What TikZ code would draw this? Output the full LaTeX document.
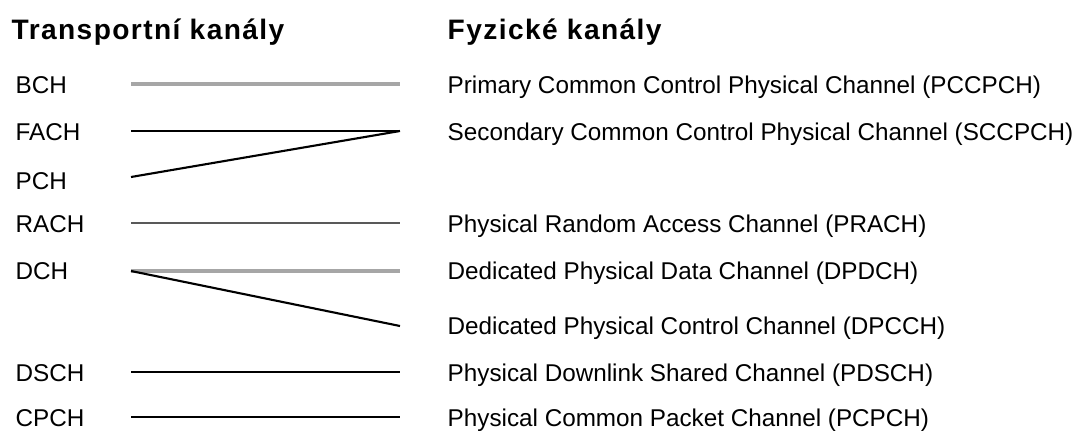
\documentclass[tikz,border=0pt]{standalone}
\usepackage{fontspec}
\setmainfont{Liberation Sans}
\usetikzlibrary{positioning}
\tikzset{
  px/.style={x=0.01cm,y=-0.01cm},
  colhead/.style={anchor=base west,inner sep=0pt,
    font=\bfseries\fontsize{8}{9}\selectfont\addfontfeature{LetterSpace=5}},
  chlbl/.style={anchor=base west,inner sep=0pt,font=\fontsize{6.9}{8}\selectfont},
  link/.style={line width=0.6pt,black},
  darklink/.style={line width=0.6pt,black!65},
  graylink/.style={line width=1.3pt,black!35},
}

\begin{document}
\begin{tikzpicture}[px]
  \useasboundingbox (0,0) rectangle (1072,430);
  % column headings
  \node[colhead] (thead) at (11,39) {Transportní kanály};
  \node[colhead] (phead) at (447,39) {Fyzické kanály};
  % transport channels (left) and line starts
  \foreach \n/\t/\y/\ly in {bch/BCH/93/84, fach/FACH/140/131, pch/PCH/189/177,
      rach/RACH/232/223, dch/DCH/279/271, dsch/DSCH/381/372, cpch/CPCH/426/417} {
    \node[chlbl] (\n) at (15,\y) {\t};
    \coordinate (t-\n) at (131,\ly);
  }
  % physical channels (right) and line ends
  \foreach \n/\t/\y/\ly in {
      pccpch/Primary Common Control Physical Channel (PCCPCH)/93/84,
      sccpch/Secondary Common Control Physical Channel (SCCPCH)/140/131,
      prach/Physical Random Access Channel (PRACH)/232/223,
      dpdch/Dedicated Physical Data Channel (DPDCH)/279/271,
      dpcch/Dedicated Physical Control Channel (DPCCH)/334/326,
      pdsch/Physical Downlink Shared Channel (PDSCH)/381/372,
      pcpch/Physical Common Packet Channel (PCPCH)/426/417} {
    \node[chlbl] (\n) at (447,\y) {\t};
    \coordinate (p-\n) at (400,\ly);
  }
  % mapping
  \draw[graylink] (t-bch) -- (p-pccpch);
  \draw[link] (t-fach) -- (p-sccpch);
  \draw[link] (t-pch) -- (p-sccpch);
  \draw[darklink] (t-rach) -- (p-prach);
  \draw[graylink] (t-dch) -- (p-dpdch);
  \draw[link] (t-dch) -- (p-dpcch);
  \draw[link] (t-dsch) -- (p-pdsch);
  \draw[link] (t-cpch) -- (p-pcpch);
\end{tikzpicture}
\end{document}
